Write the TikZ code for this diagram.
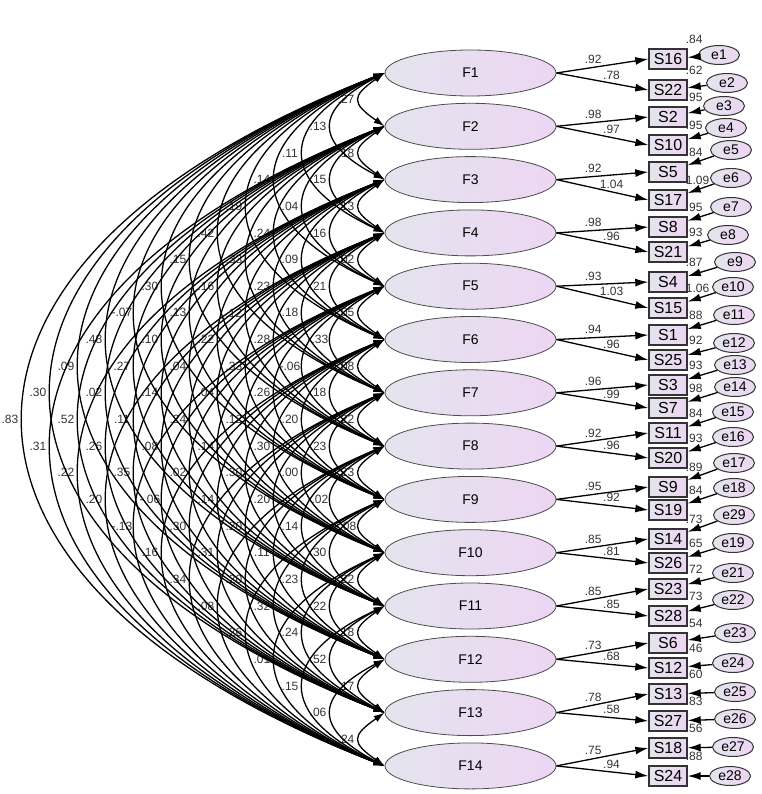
\documentclass[tikz,border=0pt]{standalone}
\usepackage{fontspec}
\setmainfont{Liberation Sans}
\usetikzlibrary{shapes.geometric,arrows.meta}
\definecolor{fillL}{HTML}{E4E4EE}
\definecolor{fillR}{HTML}{EDD6F2}
\definecolor{numcol}{HTML}{333333}
\begin{document}
\begin{tikzpicture}[x=1pt,y=-1pt,
  fac/.style={ellipse, draw=black!70, line width=0.8pt, left color=fillL, right color=fillR,
    minimum width=171pt, minimum height=46pt, inner sep=0pt, font=\fontsize{14}{16}\selectfont},
  obs/.style={rectangle, draw=black!80, line width=1.4pt, left color=fillL, right color=fillR,
    minimum width=38pt, minimum height=20pt, inner sep=0pt, font=\fontsize{16}{18}\selectfont},
  err/.style={ellipse, draw=black!80, line width=1pt, left color=fillL, right color=fillR,
    minimum width=41pt, minimum height=19pt, inner sep=0pt, font=\fontsize{14}{16}\selectfont},
  num/.style={font=\fontsize{12}{13}\selectfont, text=numcol, inner sep=1pt},
  cov/.style={{Latex[length=11pt,width=7pt]}-{Latex[length=11pt,width=7pt]}, line width=1.3pt},
  ld/.style={-{Latex[length=13pt,width=8pt]}, line width=1.3pt}]
\useasboundingbox (0,0) rectangle (761,794);

% factors
\foreach \k in {1,...,14}
  \node[fac] (F\k) at (470.5,{73+53.3*(\k-1)}) {F\k};

% indicators
\foreach \n/\y in {S16/59, S22/90, S2/117, S10/145, S5/172, S17/200, S8/227, S21/252,
  S4/282, S15/308, S1/335, S25/360, S3/385, S7/408, S11/433, S20/458, S9/487, S19/510,
  S14/539, S26/563, S23/589, S28/616, S6/643, S12/668, S13/694, S27/721, S18/748, S24/776}
  \node[obs] (\n) at (668,\y) {\n};

% loadings
\foreach \k/\a/\b/\la/\lb in {1/S16/S22/.92/.78, 2/S2/S10/.98/.97, 3/S5/S17/.92/1.04,
  4/S8/S21/.98/.96, 5/S4/S15/.93/1.03, 6/S1/S25/.94/.96, 7/S3/S7/.96/.99,
  8/S11/S20/.92/.96, 9/S9/S19/.95/.92, 10/S14/S26/.85/.81, 11/S23/S28/.85/.85,
  12/S6/S12/.73/.68, 13/S13/S27/.78/.58, 14/S18/S24/.75/.94} {
  \draw[ld] (F\k.east) -- node[num,pos=0.4,above=2pt] (lu\k) {\la} (\a.west);
  \draw[ld] (F\k.east) -- node[num,pos=0.6,above=2pt] (ll\k) {\lb} (\b.west);
}

% errors
\foreach \e/\x/\y/\s/\v in {e1/719/55/S16/.84, e2/727/83/S22/.62, e3/724/106/S2/.95,
  e4/726/128/S10/.95, e5/731/150/S5/.84, e6/731/178/S17/1.09, e7/731/207/S8/.95,
  e8/728/235/S21/.93, e9/735/262/S4/.87, e10/733/287/S15/1.06, e11/734/315/S1/.88,
  e12/734/343/S25/.92, e13/735/365/S3/.93, e14/735/387/S7/.98, e15/733/412/S11/.84,
  e16/733/437/S20/.93, e17/734/463/S9/.89, e18/734/488/S19/.84, e29/734/515/S14/.73,
  e19/733/543/S26/.65, e21/733/573/S23/.72, e22/733/600/S28/.73, e23/735/633/S6/.54,
  e24/733/663/S12/.46, e25/735/692/S13/.60, e26/735/719/S27/.83, e27/733/747/S18/.56,
  e28/730/776/S24/.88} {
  \node[err] (\e) at (\x,\y) {\e};
  \draw[ld] (\e) -- (\s);
  \node[num,anchor=west,xshift=-3pt,yshift=9pt] (v\e) at (\s.north east) {\v};
}

% covariances
\foreach \i/\j/\lab in {1/2/.27, 2/3/.18, 3/4/.13, 4/5/.02, 5/6/.05, 6/7/.08, 7/8/.22,
  8/9/.23, 9/10/-.08, 10/11/.22, 11/12/.18, 12/13/.17, 13/14/.24,
  1/3/.13, 2/4/.15, 3/5/.16, 4/6/.21, 5/7/-.33, 6/8/.18, 7/9/.23, 8/10/-.02, 9/11/.30,
  10/12/.22, 11/13/.52, 12/14/.06,
  1/4/.11, 2/5/.04, 3/6/.09, 4/7/.18, 5/8/-.06, 6/9/.20, 7/10/.00, 8/11/.14, 9/12/.23,
  10/13/.24, 11/14/.15,
  1/5/.14, 2/6/.24, 3/7/.23, 4/8/.28, 5/9/.26, 6/10/.30, 7/11/.20, 8/12/.11, 9/13/.32, 10/14/.01,
  1/6/.19, 2/7/.33, 3/8/.12, 4/9/.33, 5/10/.12, 6/11/.30, 7/12/.20, 8/13/.20, 9/14/.26,
  1/7/.42, 2/8/.16, 3/9/.22, 4/10/.04, 5/11/.14, 6/12/.14, 7/13/.31, 8/14/.08,
  1/8/.15, 2/9/.13, 3/10/.04, 4/11/.24, 5/12/.02, 6/13/.30, 7/14/.34,
  1/9/.30, 2/10/.10, 3/11/.14, 4/12/.08, 5/13/-.06, 6/14/.16,
  1/10/-.07, 2/11/.27, 3/12/.11, 4/13/.35, 5/14/-.13,
  1/11/.48, 2/12/.02, 3/13/.26, 4/14/.20,
  1/12/.09, 2/13/.52, 3/14/.22,
  1/13/.30, 2/14/.31,
  1/14/.83} {
  \pgfmathsetmacro\dd{\j-\i}
  \pgfmathsetmacro\bb{25+28*(\dd-1)}
  \pgfmathsetmacro\cxx{\bb/0.75}
  \pgfmathsetmacro\th{20+15/\dd}
  \pgfmathsetmacro\cyy{\cxx*tan(\th)}
  \draw[cov] (F\i.west) .. controls +(-\cxx,\cyy) and +(-\cxx,-\cyy) .. (F\j.west);
  \pgfmathsetmacro\lx{346-28*(\dd-1)}
  \pgfmathsetmacro\ly{73+(\i+\j-2)*26.65}
  \node[num] (c\i-\j) at (\lx,\ly) {\lab};
}
\end{tikzpicture}
\end{document}
